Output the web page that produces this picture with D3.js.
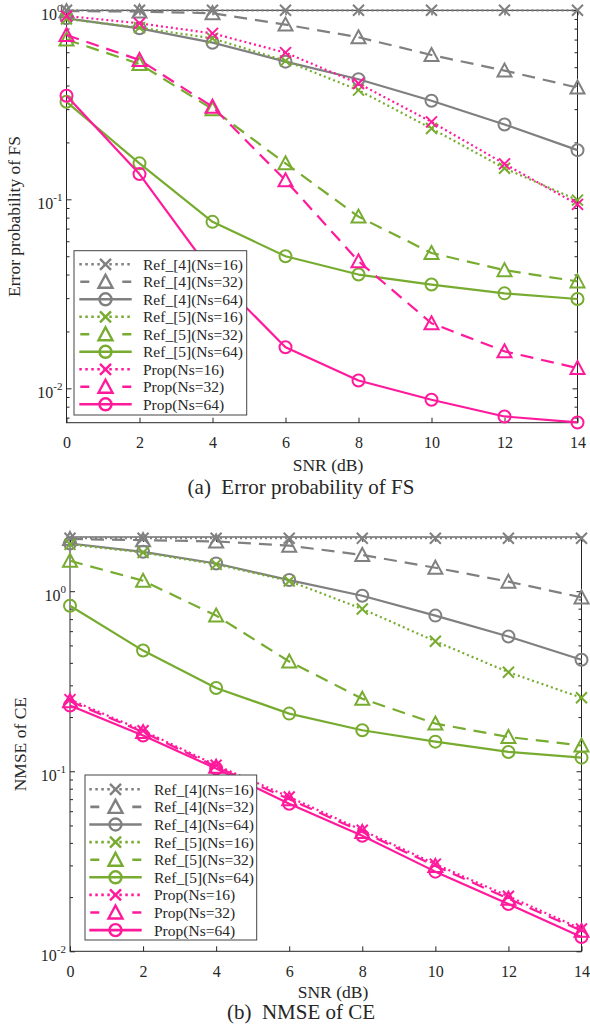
<!DOCTYPE html>
<html>
<head>
<meta charset="utf-8">
<script src="https://cdn.jsdelivr.net/npm/d3@7"></script>
<style>
  html, body { margin: 0; padding: 0; background: #fff; }
  svg { display: block; }
  text { font-family: "Liberation Serif", "Times New Roman", serif; fill: #262626; }
</style>
</head>
<body>
<script>
/* ---------- Dados ---------- */
const snrDb = [0, 2, 4, 6, 8, 10, 12, 14];

const legendLabels = [
  'Ref_[4](Ns=16)', 'Ref_[4](Ns=32)', 'Ref_[4](Ns=64)',
  'Ref_[5](Ns=16)', 'Ref_[5](Ns=32)', 'Ref_[5](Ns=64)',
  'Prop(Ns=16)', 'Prop(Ns=32)', 'Prop(Ns=64)'
];

// (a) Error probability of FS
const fsRef4Ns16 = [1.0, 1.0, 1.0, 1.0, 1.0, 1.0, 1.0, 1.0];
const fsRef4Ns32 = [0.99, 0.985, 0.965, 0.84, 0.72, 0.58, 0.48, 0.39];
const fsRef4Ns64 = [0.907, 0.803, 0.674, 0.535, 0.432, 0.332, 0.249, 0.182];
const fsRef5Ns16 = [0.90, 0.81, 0.71, 0.54, 0.378, 0.237, 0.146, 0.099];
const fsRef5Ns32 = [0.70, 0.52, 0.30, 0.155, 0.081, 0.052, 0.0422, 0.0368];
const fsRef5Ns64 = [0.328, 0.155, 0.076, 0.050, 0.040, 0.0354, 0.0318, 0.0297];
const fsPropNs16 = [0.933, 0.853, 0.755, 0.597, 0.41, 0.257, 0.154, 0.094];
const fsPropNs32 = [0.74, 0.546, 0.309, 0.126, 0.047, 0.0221, 0.0157, 0.0128];
const fsPropNs64 = [0.353, 0.136, 0.0405, 0.0165, 0.011, 0.0087, 0.0071, 0.0066];

// (b) NMSE of CE
const ceRef4Ns16 = [1.97, 1.97, 1.97, 1.97, 1.97, 1.97, 1.97, 1.97];
const ceRef4Ns32 = [1.95, 1.92, 1.89, 1.79, 1.59, 1.35, 1.13, 0.924];
const ceRef4Ns64 = [1.84, 1.655, 1.425, 1.153, 0.944, 0.732, 0.56, 0.416];
const ceRef5Ns16 = [1.82, 1.64, 1.41, 1.14, 0.797, 0.527, 0.355, 0.256];
const ceRef5Ns32 = [1.475, 1.143, 0.732, 0.407, 0.253, 0.184, 0.155, 0.139];
const ceRef5Ns64 = [0.83, 0.468, 0.29, 0.209, 0.169, 0.146, 0.128, 0.119];
const cePropNs16 = [0.25, 0.168, 0.108, 0.072, 0.047, 0.0305, 0.0202, 0.0133];
const cePropNs32 = [0.245, 0.165, 0.106, 0.070, 0.046, 0.0298, 0.0196, 0.013];
const cePropNs64 = [0.232, 0.158, 0.1035, 0.066, 0.0438, 0.0277, 0.0183, 0.012];

/* ---------- Estilos ---------- */
const GRAY = '#808080', GREEN = '#77ac30', PINK = '#ff1a9c';
const DOT = '2,3', DASH = '13,8';
const styles = [
  { col: GRAY,  dash: DOT,  mk: 'x'   },
  { col: GRAY,  dash: DASH, mk: 'tri' },
  { col: GRAY,  dash: null, mk: 'o'   },
  { col: GREEN, dash: DOT,  mk: 'x'   },
  { col: GREEN, dash: DASH, mk: 'tri' },
  { col: GREEN, dash: null, mk: 'o'   },
  { col: PINK,  dash: DOT,  mk: 'x'   },
  { col: PINK,  dash: DASH, mk: 'tri' },
  { col: PINK,  dash: null, mk: 'o'   }
];

const W = 590, H = 1029;
const svg = d3.select('body').append('svg')
  .attr('width', W).attr('height', H);
svg.append('rect').attr('width', W).attr('height', H).attr('fill', '#fff');

function drawMarker(g, type, cx, cy, col, sw) {
  let d;
  if (type === 'x') {
    const s = 5.5;
    d = `M${cx - s},${cy - s}L${cx + s},${cy + s}M${cx - s},${cy + s}L${cx + s},${cy - s}`;
  } else if (type === 'tri') {
    d = `M${cx},${cy - 7}L${cx + 7},${cy + 6}L${cx - 7},${cy + 6}Z`;
  } else {
    g.append('circle').attr('cx', cx).attr('cy', cy).attr('r', 6)
      .attr('fill', 'none').attr('stroke', col).attr('stroke-width', sw);
    return;
  }
  g.append('path').attr('d', d).attr('fill', 'none')
    .attr('stroke', col).attr('stroke-width', sw).attr('stroke-linejoin', 'miter');
}

function drawPanel(p) {
  const x = d3.scaleLinear().domain([0, 14]).range([p.left, p.right]);
  const y = d3.scaleLog().domain(p.yDomain).range([p.bottom, p.top]);
  const g = svg.append('g');

  /* ---------- eixos ---------- */
  const majors = p.decades;
  const minors = [];
  p.minorDecades.forEach(dec => {
    for (let k = 2; k <= 9; k++) {
      const v = k * dec;
      if (v >= p.yDomain[0] * 0.999 && v <= p.yDomain[1] * 1.001) minors.push(v);
    }
  });

  const styleAxis = sel => {
    sel.select('.domain').remove();
    sel.selectAll('line').attr('stroke', '#262626');
    sel.selectAll('text').attr('font-family', '"Liberation Serif", serif')
      .attr('font-size', 16).attr('fill', '#262626');
  };

  g.append('g').attr('transform', `translate(0,${p.bottom})`)
    .call(d3.axisBottom(x).tickValues(snrDb).tickSizeInner(-5).tickSizeOuter(0)
      .tickPadding(p.xTickPad).tickFormat(d3.format('d')))
    .call(styleAxis);
  g.append('g').attr('transform', `translate(0,${p.top})`)
    .call(d3.axisTop(x).tickValues(snrDb).tickSizeInner(-5).tickSizeOuter(0).tickFormat(''))
    .call(styleAxis);

  [[d3.axisLeft, p.left], [d3.axisRight, p.right]].forEach(([ax, pos]) => {
    g.append('g').attr('transform', `translate(${pos},0)`)
      .call(ax(y).tickValues(majors).tickSizeInner(-5).tickSizeOuter(0).tickFormat(''))
      .call(styleAxis);
    g.append('g').attr('transform', `translate(${pos},0)`)
      .call(ax(y).tickValues(minors).tickSizeInner(-3).tickSizeOuter(0).tickFormat(''))
      .call(styleAxis);
  });

  g.append('rect')
    .attr('x', p.left).attr('y', p.top)
    .attr('width', p.right - p.left).attr('height', p.bottom - p.top)
    .attr('fill', 'none').attr('stroke', '#262626').attr('stroke-width', 1);

  // rótulos 10^k
  majors.forEach(v => {
    const t = g.append('text')
      .attr('x', p.left - 4).attr('y', y(v) + 10)
      .attr('text-anchor', 'end').attr('font-size', 16);
    t.append('tspan').text('10');
    t.append('tspan').attr('dy', -8).attr('font-size', 11)
      .text(Math.round(Math.log10(v)));
  });

  /* ---------- séries ---------- */
  const line = d3.line().x((d, i) => x(snrDb[i])).y(d => y(d));
  p.series.forEach((vals, i) => {
    const st = styles[i];
    g.append('path').datum(vals)
      .attr('d', line)
      .attr('fill', 'none')
      .attr('stroke', st.col)
      .attr('stroke-width', 2.2)
      .attr('stroke-dasharray', st.dash)
      .attr('stroke-linejoin', 'round');
    const mg = g.append('g');
    vals.forEach((v, j) => drawMarker(mg, st.mk, x(snrDb[j]), y(v), st.col, 2));
  });

  /* ---------- legenda ---------- */
  const L = p.legend;
  const lg = g.append('g');
  lg.append('rect')
    .attr('x', L.x0).attr('y', L.y0)
    .attr('width', L.x1 - L.x0).attr('height', L.y1 - L.y0)
    .attr('fill', '#fff').attr('stroke', '#444').attr('stroke-width', 1);
  legendLabels.forEach((lab, i) => {
    const st = styles[i];
    const cy = L.rowY + i * L.rowStep;
    lg.append('line')
      .attr('x1', L.lineX0).attr('x2', L.lineX1)
      .attr('y1', cy).attr('y2', cy)
      .attr('stroke', st.col).attr('stroke-width', 2.6)
      .attr('stroke-dasharray', st.dash === DOT ? '2.5,3.5' : (st.dash ? '9,33' : null))
      .attr('stroke-dashoffset', st.dash === DOT ? 0 : (st.dash ? -1 : 0));
    drawMarker(lg, st.mk, (L.lineX0 + L.lineX1) / 2, cy, st.col, 2.4);
    lg.append('text')
      .attr('x', L.textX).attr('y', cy + 5.5)
      .attr('font-size', 15.5)
      .text(lab);
  });

  /* ---------- títulos ---------- */
  g.append('text')
    .attr('transform', `translate(${p.yLabelX},${(p.top + p.bottom) / 2}) rotate(-90)`)
    .attr('text-anchor', 'middle').attr('font-size', 17.5)
    .text(p.yLabel);
  g.append('text')
    .attr('x', p.xLabelX).attr('y', p.xLabelY)
    .attr('text-anchor', 'middle').attr('font-size', 17.5)
    .text('SNR (dB)');
  g.append('text')
    .attr('x', 301).attr('y', p.captionY)
    .attr('text-anchor', 'middle').attr('font-size', 21)
    .style('white-space', 'pre')
    .text(p.caption);
}

drawPanel({
  left: 66.5, right: 577.5, top: 10.3, bottom: 422.7,
  yDomain: [0.00658, 1],
  decades: [0.01, 0.1, 1],
  minorDecades: [0.001, 0.01, 0.1],
  xTickPad: 14,
  series: [fsRef4Ns16, fsRef4Ns32, fsRef4Ns64, fsRef5Ns16, fsRef5Ns32, fsRef5Ns64,
           fsPropNs16, fsPropNs32, fsPropNs64],
  legend: { x0: 74, x1: 246.7, y0: 250.7, y1: 415, rowY: 264.3, rowStep: 17.5,
            lineX0: 79.3, lineX1: 131.7, textX: 143 },
  yLabel: 'Error probability of FS', yLabelX: 20,
  xLabelX: 328, xLabelY: 471,
  caption: '(a)  Error probability of FS', captionY: 494
});

drawPanel({
  left: 70, right: 581.5, top: 537, bottom: 951.3,
  yDomain: [0.01, 2],
  decades: [0.01, 0.1, 1],
  minorDecades: [0.01, 0.1, 1],
  xTickPad: 14,
  series: [ceRef4Ns16, ceRef4Ns32, ceRef4Ns64, ceRef5Ns16, ceRef5Ns32, ceRef5Ns64,
           cePropNs16, cePropNs32, cePropNs64],
  legend: { x0: 85, x1: 256.7, y0: 775, y1: 940, rowY: 789.3, rowStep: 17.6,
            lineX0: 89.3, lineX1: 141.7, textX: 154 },
  yLabel: 'NMSE of CE', yLabelX: 26,
  xLabelX: 333, xLabelY: 997.5,
  caption: '(b)  NMSE of CE', captionY: 1019
});
</script>
</body>
</html>
